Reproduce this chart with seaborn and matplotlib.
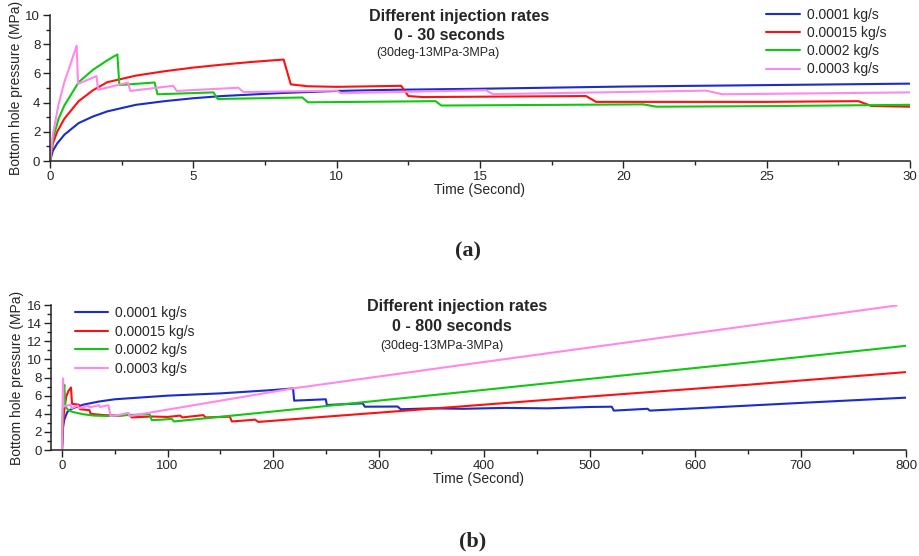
import matplotlib
matplotlib.use('Agg')
import matplotlib.pyplot as plt
from matplotlib.ticker import MultipleLocator
import seaborn as sns
import pandas as pd

rates = ['0.0001 kg/s', '0.00015 kg/s', '0.0002 kg/s', '0.0003 kg/s']
colors = ['#1a2ccc', '#ff1010', '#10c810', '#ff88ea']

# panel (a): 0 - 30 s
a_t_blue = [0, 0.1, 0.25, 0.5, 1, 1.5, 2, 3, 4, 5, 6, 8, 10, 12, 15, 20, 25, 30]
a_p_blue = [0, 0.7, 1.2, 1.8, 2.6, 3.05, 3.4, 3.85, 4.1, 4.3, 4.45, 4.65, 4.8, 4.88, 4.95, 5.1, 5.2, 5.3]
a_t_red = [0, 0.1, 0.25, 0.5, 1, 1.5, 2, 3, 4, 5, 6, 7, 8.15, 8.4, 9, 10, 12.25, 12.5, 13,
           18.7, 19.05, 22, 25, 28.2, 28.65, 30]
a_p_red = [0, 1.2, 2.0, 2.9, 4.1, 4.85, 5.4, 5.85, 6.15, 6.4, 6.6, 6.78, 6.95, 5.25, 5.12, 5.08, 5.15, 4.45, 4.38,
           4.45, 4.05, 4.05, 4.05, 4.1, 3.77, 3.72]
a_t_green = [0, 0.1, 0.3, 0.5, 1, 1.5, 2, 2.35, 2.42, 3.65, 3.75, 5.7, 5.85, 8.8, 9.0, 13.45, 13.65,
             20.7, 21.15, 25, 30]
a_p_green = [0, 1.5, 2.9, 3.8, 5.4, 6.25, 6.9, 7.3, 5.2, 5.38, 4.57, 4.7, 4.25, 4.35, 4.02, 4.1, 3.8,
             3.88, 3.72, 3.76, 3.85]
a_t_pink = [0, 0.1, 0.3, 0.5, 0.93, 0.98, 1.62, 1.68, 2.72, 2.8, 4.3, 4.42, 6.57, 6.75, 10.0, 10.15,
            15.2, 15.45, 22.9, 23.45, 30]
a_p_pink = [0, 1.8, 3.9, 5.4, 7.9, 5.28, 5.82, 4.88, 5.37, 4.8, 5.15, 4.8, 5.02, 4.72, 4.82, 4.65,
            4.85, 4.58, 4.82, 4.57, 4.7]

# panel (b): 0 - 800 s
b_t_blue = [0, 1, 2, 5, 10, 20, 35, 50, 75, 100, 150, 200, 219, 220, 250, 251, 285, 287, 318, 321,
            350, 380, 420, 460, 500, 521, 523, 555, 557, 600, 700, 800]
b_p_blue = [0, 2.5, 3.3, 4.2, 4.6, 5.0, 5.35, 5.6, 5.8, 6.0, 6.25, 6.62, 6.8, 5.45, 5.6, 4.97, 5.15, 4.78, 4.8, 4.5,
            4.6, 4.55, 4.65, 4.6, 4.75, 4.78, 4.35, 4.55, 4.35, 4.6, 5.2, 5.78]
b_t_red = [0, 1, 2, 4, 6, 8.5, 9.5, 16, 17, 26, 27, 40, 55, 64, 66, 85, 100, 112, 114, 134, 136,
           159, 161, 183, 186, 250, 377, 500, 650, 800]
b_p_red = [0, 3.0, 4.3, 5.9, 6.5, 6.9, 5.1, 5.0, 4.5, 4.4, 4.0, 3.85, 3.8, 3.9, 3.6, 3.7, 3.65, 3.8, 3.6, 3.85, 3.6,
           3.68, 3.15, 3.35, 3.1, 3.68, 4.8, 5.9, 7.2, 8.6]
b_t_green = [0, 0.5, 1.5, 2.2, 3, 6, 10, 20, 30, 45, 60, 83, 85, 95, 104, 106, 200, 300, 377, 500, 650, 800]
b_p_green = [0, 3.5, 6.5, 7.2, 4.8, 4.4, 4.2, 3.95, 3.8, 3.75, 3.85, 3.95, 3.3, 3.35, 3.45, 3.15, 4.25, 5.45,
             6.36, 7.85, 9.65, 11.5]
b_t_pink = [0, 0.5, 1, 1.3, 5, 8, 9, 15, 16, 25, 26, 35, 36, 44, 46, 55, 63, 64, 219, 377, 600, 791]
b_p_pink = [0, 4.5, 7.9, 4.8, 4.9, 5.0, 4.6, 4.9, 4.6, 4.9, 4.7, 4.95, 4.75, 4.95, 3.75, 3.9, 4.1, 3.75,
            6.8, 9.35, 12.9, 15.95]


def make_df(series):
    frames = []
    for rate, (t, p) in zip(rates, series):
        frames.append(pd.DataFrame({'t': t, 'p': p, 'rate': rate}))
    return pd.concat(frames, ignore_index=True)


df_a = make_df([(a_t_blue, a_p_blue), (a_t_red, a_p_red), (a_t_green, a_p_green), (a_t_pink, a_p_pink)])
df_b = make_df([(b_t_blue, b_p_blue), (b_t_red, b_p_red), (b_t_green, b_p_green), (b_t_pink, b_p_pink)])

sns.set_theme(style='ticks')
plt.rcParams['font.family'] = ['Liberation Sans', 'DejaVu Sans']
plt.rcParams['xtick.direction'] = 'out'
plt.rcParams['ytick.direction'] = 'out'

W, H = 919, 556
fig = plt.figure(figsize=(W / 100, H / 100), dpi=100)
ax1 = fig.add_axes([0.0544, 0.7104, 0.9358, 0.2626])
ax2 = fig.add_axes([0.0560, 0.1906, 0.9300, 0.2608])

palette = dict(zip(rates, colors))

panels = [
    dict(ax=ax1, df=df_a, xlim=(0, 30), ylim=(0, 10), xmaj=5, xmin=2.5, dur='0 - 30 seconds',
         tx=(459, 449, 438), ty=(16.5, 35, 53), leg_xy=(766, 8), leg_fs=10, hl=2.45, ls=0.3),
    dict(ax=ax2, df=df_b, xlim=(-10, 800), ylim=(0, 16), xmaj=100, xmin=50, dur='0 - 800 seconds',
         tx=(457, 452, 442), ty=(306.5, 326.5, 345.5), leg_xy=(75, 306), leg_fs=10, hl=2.4, ls=0.33),
]

for p in panels:
    ax = p['ax']
    sns.lineplot(data=p['df'], x='t', y='p', hue='rate', palette=palette, estimator=None,
                 sort=False, linewidth=1.5, ax=ax)
    ax.set_xlim(*p['xlim'])
    ax.set_ylim(*p['ylim'])
    ax.xaxis.set_major_locator(MultipleLocator(p['xmaj']))
    ax.xaxis.set_minor_locator(MultipleLocator(p['xmin']))
    ax.yaxis.set_major_locator(MultipleLocator(2))
    ax.yaxis.set_minor_locator(MultipleLocator(1))
    ax.tick_params(which='major', length=5, width=1, labelsize=9.5, pad=2, color='#222222')
    ax.tick_params(which='minor', length=3, width=1, color='#222222')
    sns.despine(ax=ax)
    for s in ['left', 'bottom']:
        ax.spines[s].set_linewidth(1.1)
        ax.spines[s].set_color('#222222')
    ax.set_xlabel('Time (Second)', fontsize=10, labelpad=0)
    ax.set_ylabel('Bottom hole pressure (MPa)', fontsize=10, labelpad=2)
    lx, ly = p['leg_xy']
    ax.legend(loc='upper left', bbox_to_anchor=(lx / W, 1 - ly / H), bbox_transform=fig.transFigure,
              frameon=False, fontsize=p['leg_fs'], handlelength=p['hl'], handletextpad=0.5,
              labelspacing=p['ls'], borderaxespad=0, borderpad=0)
    fig.text(p['tx'][0] / W, 1 - p['ty'][0] / H, 'Different injection rates', ha='center', va='center',
             fontsize=11.6, weight='bold')
    fig.text(p['tx'][1] / W, 1 - p['ty'][1] / H, p['dur'], ha='center', va='center',
             fontsize=11.6, weight='bold')
    fig.text(p['tx'][2] / W, 1 - p['ty'][2] / H, '(30deg-13MPa-3MPa)', ha='center', va='center',
             fontsize=9)

fig.text(468 / W, 1 - 251 / H, '(a)', ha='center', va='center', fontsize=16, weight='bold',
         family='Liberation Serif')
fig.text(473 / W, 1 - 541 / H, '(b)', ha='center', va='center', fontsize=16, weight='bold',
         family='Liberation Serif')

fig.savefig('out.png', dpi=100)
